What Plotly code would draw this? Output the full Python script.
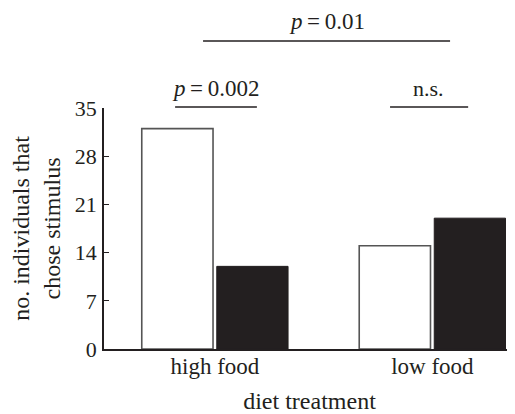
import plotly.graph_objects as go

categories = ["high food", "low food"]
stimulus_white = [32, 15]
stimulus_black = [12, 19]
y_ticks = [0, 7, 14, 21, 28, 35]

FONT = "Liberation Serif, Times New Roman, serif"
x_pos = list(range(len(categories)))

fig = go.Figure()
fig.add_trace(go.Bar(x=x_pos, y=stimulus_white, marker=dict(color="white", line=dict(color="#555555", width=1.6)),
                     showlegend=False))
fig.add_trace(go.Bar(x=x_pos, y=stimulus_black, marker=dict(color="#231f20", line=dict(color="#231f20", width=1)),
                     showlegend=False))

# page has an 8px body margin, so the figure is offset by 8px
fig.update_layout(
    width=507, height=414,
    margin=dict(l=96, r=0, t=100, b=73),
    paper_bgcolor="white", plot_bgcolor="white",
    barmode="group", bargap=0.31, bargroupgap=0.05,
    font=dict(family=FONT, size=22, color="#231f20"),
    xaxis=dict(range=[-0.51, 1.38], tickvals=x_pos, ticktext=categories, showline=True,
               linecolor="#231f20", linewidth=1.5, ticks="", ticklen=0, showgrid=False, zeroline=False,
               automargin=False, tickfont=dict(size=23), ticklabelstandoff=-4,
               title=dict(text="diet treatment", font=dict(size=24), standoff=14)),
    yaxis=dict(range=[0, 35], tickvals=y_ticks, showline=True, linecolor="#231f20", linewidth=1.5,
               ticks="inside", ticklen=5, tickcolor="#231f20", showgrid=False, zeroline=False,
               ticklabelstandoff=1, automargin=False,
               title=dict(text="no. individuals that<br>chose stimulus", font=dict(size=24), standoff=10)),
)

def pline(x0, x1, y):
    fig.add_shape(type="line", xref="paper", yref="paper", x0=x0, x1=x1, y0=y, y1=y,
                  line=dict(color="#231f20", width=1.5))

pline(0.241, 0.842, 1.278)
pline(0.173, 0.372, 1.004)
pline(0.696, 0.886, 1.004)

fig.add_annotation(xref="paper", yref="paper", x=0.542, y=1.36, text="<i>p</i>\u2009=\u20090.01",
                   showarrow=False, font=dict(size=23), xanchor="center", yanchor="middle")
fig.add_annotation(xref="paper", yref="paper", x=0.272, y=1.08, text="<i>p</i>\u2009=\u20090.002",
                   showarrow=False, font=dict(size=23), xanchor="center", yanchor="middle")
fig.add_annotation(xref="paper", yref="paper", x=0.79, y=1.08, text="n.s.",
                   showarrow=False, font=dict(size=22), xanchor="center", yanchor="middle")

fig.write_html("out.html")
